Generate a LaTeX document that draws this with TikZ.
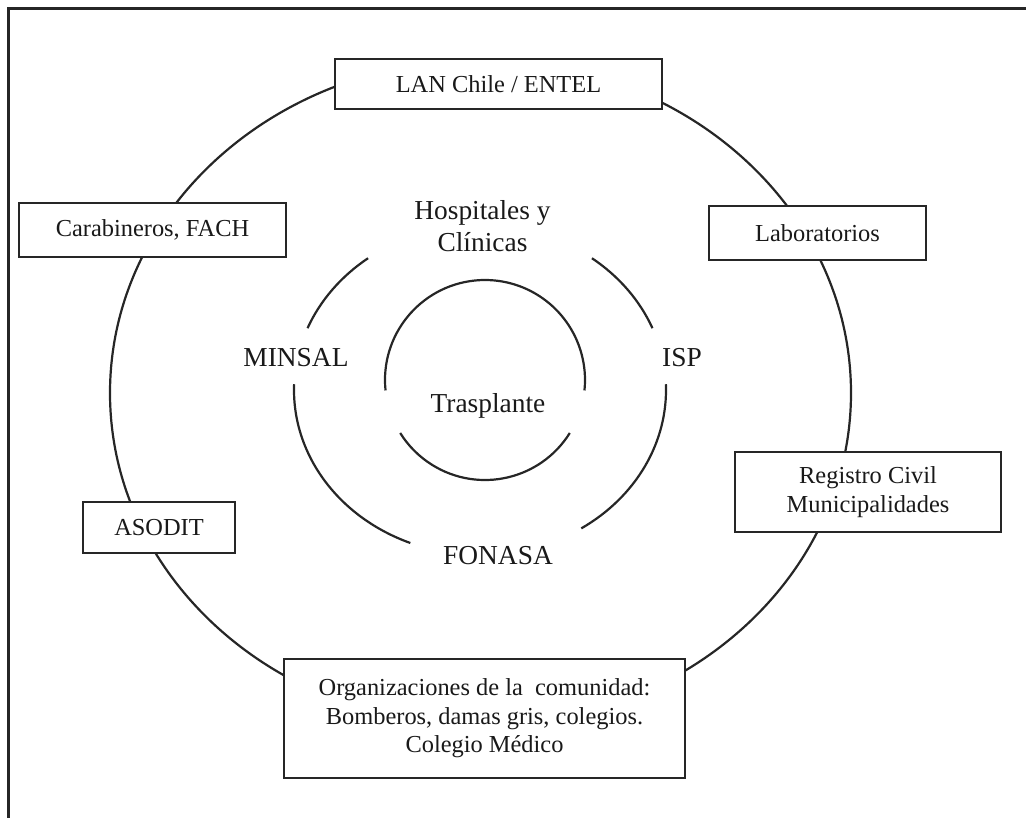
\documentclass[tikz,border=0pt]{standalone}
\usepackage{fontspec}
\setmainfont{Liberation Serif}
\usetikzlibrary{calc}
\begin{document}
\begin{tikzpicture}[x=1bp,y=-1bp,
  ring/.style={line width=2.2bp, draw=black!85},
  box/.style={draw=black!85, line width=2.8bp, fill=white, inner sep=0pt, align=center,
    text=black!90, font=\fontsize{24.5}{28.5}\selectfont},
  lbl/.style={inner sep=0pt, align=center, text=black!90, font=\fontsize{27.5}{32}\selectfont}]
\useasboundingbox (0,0) rectangle (1026,818);
% frame
\coordinate (fbl) at (8,830);
\coordinate (ftl) at (8,9);
\coordinate (ftr) at (1040,9);
\draw[line width=3bp, draw=black!85] (fbl) -- (ftl) -- (ftr);
% outer ring
\coordinate (oc) at (480.5,393);
\draw[ring] (oc) ellipse [x radius=370.5, y radius=333];
% middle ring
\coordinate (mc) at (480,390);
\draw[ring] ($(mc)+(202:186 and 165)$) arc[start angle=202, end angle=233, x radius=186, y radius=165];
\draw[ring] ($(mc)+(307:186 and 165)$) arc[start angle=307, end angle=338, x radius=186, y radius=165];
\draw[ring] ($(mc)+(112:186 and 165)$) arc[start angle=112, end angle=182, x radius=186, y radius=165];
\draw[ring] ($(mc)+(-2:186 and 165)$) arc[start angle=-2, end angle=57, x radius=186, y radius=165];
% inner ring
\coordinate (ic) at (485,380);
\draw[ring] ($(ic)+(-186:100)$) arc[start angle=-186, end angle=6, radius=100];
\draw[ring] ($(ic)+(32:100)$) arc[start angle=32, end angle=148, radius=100];
% boxes
\node[box, minimum width=327bp, minimum height=50bp] (lan) at (498.5,84) {LAN Chile / ENTEL};
\node[box, minimum width=267bp, minimum height=54bp] (carab) at (152.5,230) {Carabineros, FACH};
\node[box, minimum width=217bp, minimum height=54bp] (lab) at (817.5,233) {Laboratorios};
\node[box, minimum width=266bp, minimum height=80bp] (reg) at (868,492) {Registro Civil\\Municipalidades};
\node[box, minimum width=152bp, minimum height=51bp] (asod) at (159,527.5) {ASODIT};
\node[box, minimum width=401bp, minimum height=119bp] (org) at (484.5,718.5)
  {Organizaciones de la\ \ comunidad:\\Bomberos, damas gris, colegios.\\Colegio Médico};
% inner labels
\node[lbl] (hosp) at (482.5,226) {Hospitales y\\Clínicas};
\node[lbl] (minsal) at (296,358) {MINSAL};
\node[lbl] (isp) at (682,358) {ISP};
\node[lbl] (tras) at (488,406) {Trasplante};
\node[lbl] (fon) at (498,556) {FONASA};
\end{tikzpicture}
\end{document}
